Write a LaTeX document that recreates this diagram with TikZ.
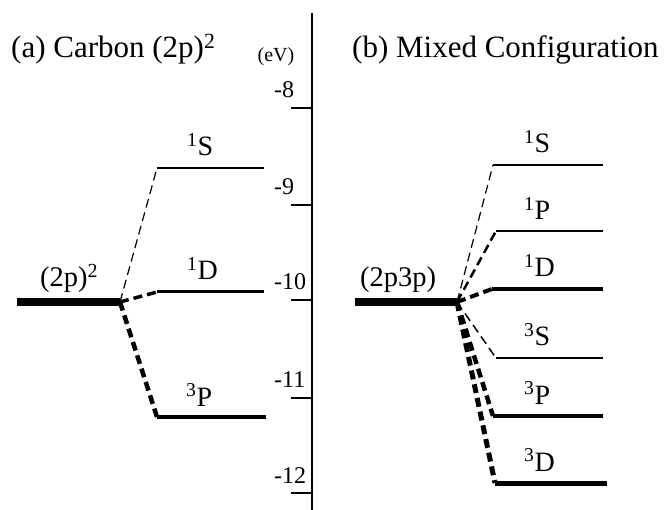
\documentclass[tikz,border=0pt]{standalone}
\usepackage{fontspec}
\setmainfont{Liberation Serif}
\begin{document}
\begin{tikzpicture}[x=1pt,y=-1pt,
  baseln/.style={line width=8pt},
  lvl/.style={line width=#1},
  conn/.style={line width=#1, dash pattern=on 9pt off 5pt},
  ttl/.style={font=\fontsize{31}{34}\selectfont, inner sep=0pt, anchor=base west},
  lab/.style={font=\fontsize{28}{31}\selectfont, inner sep=0pt, anchor=base west},
  cfglab/.style={font=\fontsize{28.5}{31}\selectfont, inner sep=0pt, anchor=base west},
  ticklab/.style={font=\fontsize{24}{27}\selectfont, inner sep=0pt, anchor=base west},
  unitlab/.style={font=\fontsize{20}{22}\selectfont, inner sep=0pt, anchor=base},
  axisln/.style={line width=2pt},
]
\useasboundingbox (0,0) rectangle (669,510);

% titles
\node[ttl] (ta) at (11,58) {(a) Carbon (2p)\textsuperscript{2}};
\node[ttl] (tb) at (352,58) {(b) Mixed Configuration};
\node[unitlab] (ev) at (276,62) {(eV)};

% energy axis
\coordinate (axtop) at (312,13);
\coordinate (axbot) at (312,510);
\draw[axisln] (axtop) -- (axbot);
\foreach \t/\lab/\nm in {108/-8/a,205/-9/b,300/-10/c,398/-11/d,493/-12/e}{
  \coordinate (tk\nm) at (291,\t);
  \coordinate (tr\nm) at (312,\t);
  \draw[axisln] (tk\nm) -- (tr\nm);
  \node[ticklab] (tl\nm) at (274,\t-10) {\lab};
}

% ---------- (a) Carbon ----------
\coordinate (aL) at (17,302);
\coordinate (aR) at (120,302);
\draw[baseln] (aL) -- (aR);
\node[cfglab] (alab) at (40,287) {(2p)\textsuperscript{2}};

\coordinate (aSs) at (157,168);  \coordinate (aSe) at (264,168);
\coordinate (aDs) at (157,292);  \coordinate (aDe) at (264,292);
\coordinate (aPs) at (157,417);  \coordinate (aPe) at (266,417);

\draw[lvl=1.2pt] (aSs) -- (aSe);
\draw[lvl=3pt] (aDs) -- (aDe);
\draw[lvl=4pt] (aPs) -- (aPe);

\draw[conn=1.2pt] (aR) -- (aSs);
\draw[conn=3.5pt] (aR) -- (aDs);
\draw[conn=4.5pt] (aR) -- (aPs);

\node[lab] (aSl) at (187,156) {\textsuperscript{1}S};
\node[lab] (aDl) at (187,280) {\textsuperscript{1}D};
\node[lab] (aPl) at (186,406) {\textsuperscript{3}P};

% ---------- (b) Mixed ----------
\coordinate (bL) at (355,302);
\coordinate (bR) at (457,302);
\draw[baseln] (bL) -- (bR);
\node[cfglab] (blab) at (360,287) {(2p3p)};

\coordinate (b1Ss) at (493,165); \coordinate (b1Se) at (603,165);
\coordinate (b1Ps) at (496,231); \coordinate (b1Pe) at (603,231);
\coordinate (b1Ds) at (492,289); \coordinate (b1De) at (603,289);
\coordinate (b3Ss) at (496,358); \coordinate (b3Se) at (603,358);
\coordinate (b3Ps) at (493,416); \coordinate (b3Pe) at (603,416);
\coordinate (b3Ds) at (495,483); \coordinate (b3De) at (607,483);

\draw[lvl=1.2pt] (b1Ss) -- (b1Se);
\draw[lvl=2pt]   (b1Ps) -- (b1Pe);
\draw[lvl=4pt]   (b1Ds) -- (b1De);
\draw[lvl=1.2pt] (b3Ss) -- (b3Se);
\draw[lvl=3.5pt] (b3Ps) -- (b3Pe);
\draw[lvl=5pt]   (b3Ds) -- (b3De);

\draw[conn=1.2pt] (bR) -- (b1Ss);
\draw[conn=2.5pt] (bR) -- (b1Ps);
\draw[conn=4pt]   (bR) -- (b1Ds);
\draw[conn=1.5pt] (bR) -- (b3Ss);
\draw[conn=4.5pt] (bR) -- (b3Ps);
\draw[conn=5pt]   (bR) -- (b3Ds);

\node[lab] (b1Sl) at (524,153) {\textsuperscript{1}S};
\node[lab] (b1Pl) at (524,220) {\textsuperscript{1}P};
\node[lab] (b1Dl) at (524,277) {\textsuperscript{1}D};
\node[lab] (b3Sl) at (524,346) {\textsuperscript{3}S};
\node[lab] (b3Pl) at (524,404) {\textsuperscript{3}P};
\node[lab] (b3Dl) at (524,471) {\textsuperscript{3}D};
\end{tikzpicture}
\end{document}
